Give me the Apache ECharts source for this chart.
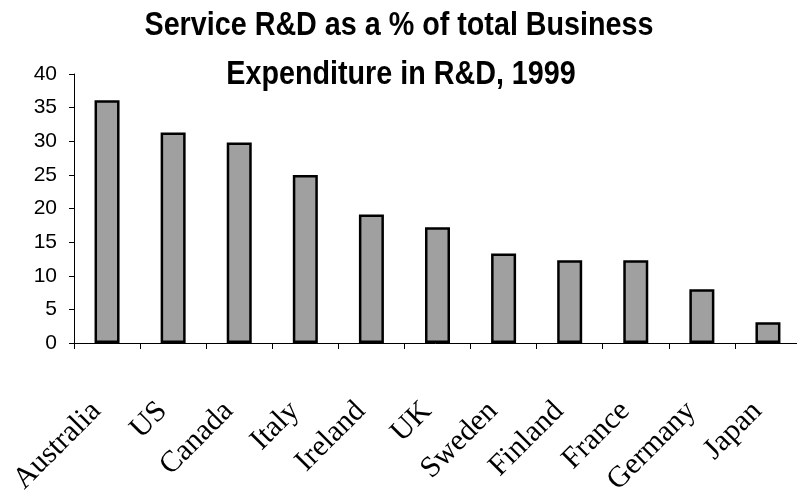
<!DOCTYPE html>
<html><head><meta charset="utf-8">
<script src="https://cdn.jsdelivr.net/npm/echarts@6/dist/echarts.min.js"></script>
<style>html,body{margin:0;padding:0;background:#fff}#c{width:797px;height:492px}</style>
</head><body><div id="c"></div>
<script>
const categories = ["Australia","US","Canada","Italy","Ireland","UK","Sweden","Finland","France","Germany","Japan"];
const values = [36.1, 31.3, 29.8, 25.0, 19.1, 17.2, 13.3, 12.3, 12.3, 8.0, 3.1];
const yTicks = [0, 40, 5];
const titleLines = ["Service R&D as a % of total Business", "Expenditure in R&D, 1999"];

const titleFont = 'bold 33px "Liberation Sans", Arial, sans-serif';
const chart = echarts.init(document.getElementById('c'), null, {renderer:'canvas'});
chart.setOption({
  animation: false,
  backgroundColor: '#fff',
  graphic: [
    {type: 'text', x: 399, y: 25.5, scaleX: 0.87, z: 10,
     style: {text: titleLines[0], font: titleFont, fill: '#000', align: 'center', verticalAlign: 'middle'}},
    {type: 'text', x: 401, y: 74.5, scaleX: 0.87, z: 10,
     style: {text: titleLines[1], font: titleFont, fill: '#000', align: 'center', verticalAlign: 'middle'}}
  ],
  grid: {left: 74, right: -4, top: 74, bottom: 149, containLabel: false, outerBoundsMode: 'none'},
  xAxis: {
    type: 'category', data: categories,
    axisLine: {lineStyle: {color: '#000', width: 1}},
    axisTick: {show: true, alignWithLabel: false, length: 6, lineStyle: {color: '#000'}},
    axisLabel: {rotate: 45, margin: 53, interval: 0, padding: [0, 15, 0, 0], fontFamily: 'Liberation Serif, Times New Roman', fontSize: 30, color: '#000'}
  },
  yAxis: {
    type: 'value', min: yTicks[0], max: yTicks[1], interval: yTicks[2],
    splitLine: {show: false},
    axisLine: {show: true, lineStyle: {color: '#000', width: 1}},
    axisTick: {show: true, length: 5, lineStyle: {color: '#000'}},
    axisLabel: {fontFamily: 'Liberation Sans, Arial', fontSize: 21, color: '#000', margin: 17}
  },
  series: [{
    type: 'bar', data: values, barWidth: 25,
    itemStyle: {color: '#a0a0a0', borderColor: '#000', borderWidth: 2.5}
  }]
});
</script></body></html>
